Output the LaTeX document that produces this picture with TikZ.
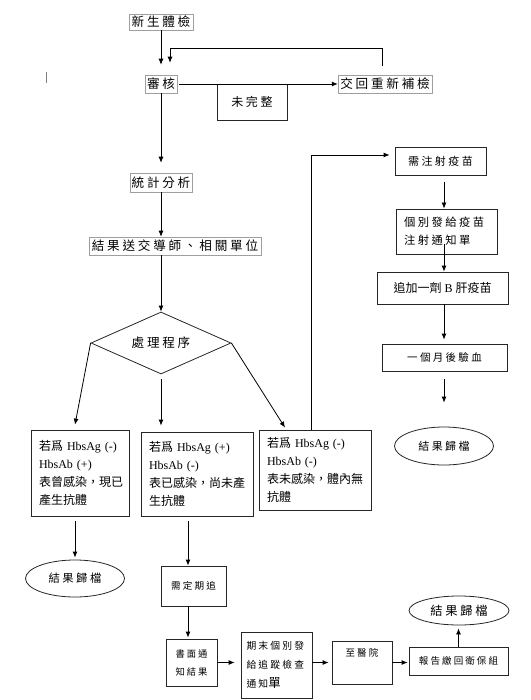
\documentclass[tikz,border=0pt]{standalone}
\usepackage{fontspec}
\setmainfont{Liberation Serif}
\newfontfamily\cjk{Noto Sans CJK TC}
\newfontfamily\cjks[LetterSpace=22]{Noto Sans CJK TC}
\usetikzlibrary{arrows.meta,shapes.geometric,calc}
\begin{document}
\begin{tikzpicture}[x=1pt,y=-1pt,
  arr/.style={-{Latex[length=6pt,width=5pt]}, line width=0.8pt},
  lbl/.style={draw=gray!75, line width=0.5pt, inner sep=0pt, font=\fontsize{12.6}{15}\cjks},
  box/.style={draw=black!85, line width=0.8pt, inner sep=0pt},
  tbox/.style={box, align=left, font=\fontsize{12}{18}\selectfont},
  oval/.style={draw=black!85, ellipse, line width=0.8pt, inner sep=0pt}
]
\useasboundingbox (0,0) rectangle (530,700);
\coordinate (cR) at (444,0);
\coordinate (cM) at (188,0);
\coordinate (fbk) at (170,48);
% stray mark
\draw[line width=0.6pt, gray] (46,72) -- (46,83);
% top chain
\node[lbl, minimum width=64pt, minimum height=16pt] (n1) at (161,22) {新生體檢};
\node[lbl, minimum width=32pt, minimum height=18pt] (n2) at (161,84) {審核};
\node[lbl, minimum width=94pt, minimum height=18pt] (n3) at (385,84) {交回重新補檢};
\node[box, line width=0.6pt, minimum width=70pt, minimum height=36pt, font=\fontsize{12}{14}\cjks] (n4) at (252,102) {未完整};
\node[lbl, minimum width=62pt, minimum height=19pt] (n5) at (161,182.5) {統計分析};
\node[lbl, minimum width=172pt, minimum height=18pt] (n6) at (175,246) {結果送交導師、相關單位};
\node[draw=black!85, diamond, line width=0.8pt, inner sep=0pt, minimum width=140pt, minimum height=62pt, shape aspect=2.26, font=\fontsize{12.6}{15}\cjks] (d) at (161,343) {處理程序};
% three cases
\node[tbox, minimum width=98pt, minimum height=86pt, text width=82pt] (b1) at (80,473)
  {{\cjk 若爲} HbsAg (-)\\HbsAb (+)\\{\cjk 表曾感染，現已}\\{\cjk 產生抗體}};
\node[tbox, minimum width=112pt, minimum height=84pt, text width=96pt] (b2) at (197,474)
  {{\cjk 若爲} HbsAg (+)\\HbsAb (-)\\{\cjk 表已感染，尚未產}\\{\cjk 生抗體}};
\node[tbox, minimum width=112pt, minimum height=80pt, text width=96pt] (b3) at (315,470)
  {{\cjk 若爲} HbsAg (-)\\HbsAb (-)\\{\cjk 表未感染，體內無}\\{\cjk 抗體}};
% right column
\node[box, minimum width=91pt, minimum height=28pt, font=\fontsize{11}{13}\cjks] (r1) at (440.5,161) {需注射疫苗};
\node[box, minimum width=101pt, minimum height=45pt, text width=85pt, align=left, font=\fontsize{11.3}{18}\cjks] (r2) at (446.5,231.5) {個別發給疫苗\\注射通知單};
\node[box, minimum width=131pt, minimum height=32pt, font=\fontsize{12}{14}\selectfont] (r3) at (442.5,288) {{\cjk 追加一劑} B {\cjk 肝疫苗}};
\node[box, minimum width=125pt, minimum height=27pt, font=\fontsize{10.5}{13}\cjks] (r4) at (444.5,357.5) {一個月後驗血};
\node[oval, minimum width=99pt, minimum height=38pt, font=\fontsize{11}{13}\cjks] (e1) at (444,446) {結果歸檔};
% left bottom
\node[oval, minimum width=99pt, minimum height=37pt, font=\fontsize{11.3}{13}\cjks] (e2) at (75,578.5) {結果歸檔};
% bottom chain
\node[box, minimum width=65pt, minimum height=40pt, font=\fontsize{9.6}{12}\cjks] (n7) at (193.5,586) {需定期追};
\node[box, minimum width=51pt, minimum height=47pt, align=center, font=\fontsize{9.3}{18}\cjks] (n8) at (191.5,662.5) {書面通\\知結果};
\node[box, minimum width=71pt, minimum height=66pt, text width=60pt, align=left, font=\fontsize{9.8}{19}\cjks] (n9) at (276.5,665) {期末個別發\\給追蹤檢查\\通知{\fontsize{12.5}{19}\selectfont 單}};
\node[box, minimum width=60pt, minimum height=43pt, align=center, font=\fontsize{9.5}{20}\cjks] (n10) at (362,662.5) {至醫院\\~};
\node[box, minimum width=99pt, minimum height=28pt, font=\fontsize{9.5}{12}\cjks] (n11) at (458.5,661) {報告繳回衛保組};
\node[oval, minimum width=100pt, minimum height=29pt, font=\fontsize{12.3}{14}\cjks] (e3) at (459,610.5) {結果歸檔};
% connectors
\draw[arr] (n1.south) -- ($(n2.north)+(0,-10)$);
\draw[arr] ($(n3.north)+(-3,-9)$) |- (fbk) -- ($(n2.north)+(9,-12)$);
\draw[arr] ($(n2.east)+(2,0)$) -- (n3.west);
\draw[arr] (n2.south) -- ($(n5.north)+(0,-10)$);
\draw[arr] (n5.south) -- (n5.south |- n6.north);
\draw[arr] (d.north |- n6.south) -- (d.north);
\draw[arr] (d.west) -- ($(b1.north)+(-5,-5)$);
\draw[arr] ($(d.south)+(0,5)$) -- ($(d.south |- b2.north)+(0,-6)$);
\draw[arr] (d.east) -- ($(b3.north)+(-30,-2)$);
\draw[arr] ($(b3.north)+(-4,0)$) |- ($(r1.west)+(-5,-6)$);
\draw[arr] ($(r1.south -| cR)+(0,7)$) -- (r2.north -| cR);
\draw[arr] ($(r2.south -| cR)+(0,-10)$) -- (r3.north -| cR);
\draw[arr] (r3.south -| cR) -- ($(r4.north -| cR)+(0,-4)$);
\draw[arr] ($(r4.south -| cR)+(0,8)$) -- ($(e1.north -| cR)+(0,-24)$);
\draw[arr] ($(b1.south)+(-5,5)$) -- ($(e2.north)+(0,-2)$);
\draw[arr] ($(b2.south -| cM)+(0,5)$) -- (n7.north -| cM);
\draw[arr] (n7.south -| cM) -- ($(n8.north -| cM)+(0,-1)$);
\draw[arr] (n8.east) -- ($(n8.east -| n9.west)+(-6,0)$);
\draw[arr] (n10.west -| n9.east) -- ($(n10.west)+(-3,0)$);
\draw[arr] (n10.east) -- ($(n10.east -| n11.west)+(-1,0)$);
\draw[arr] (n11.north) -- ($(e3.south -| n11.north)+(0,3)$);
\end{tikzpicture}
\end{document}
